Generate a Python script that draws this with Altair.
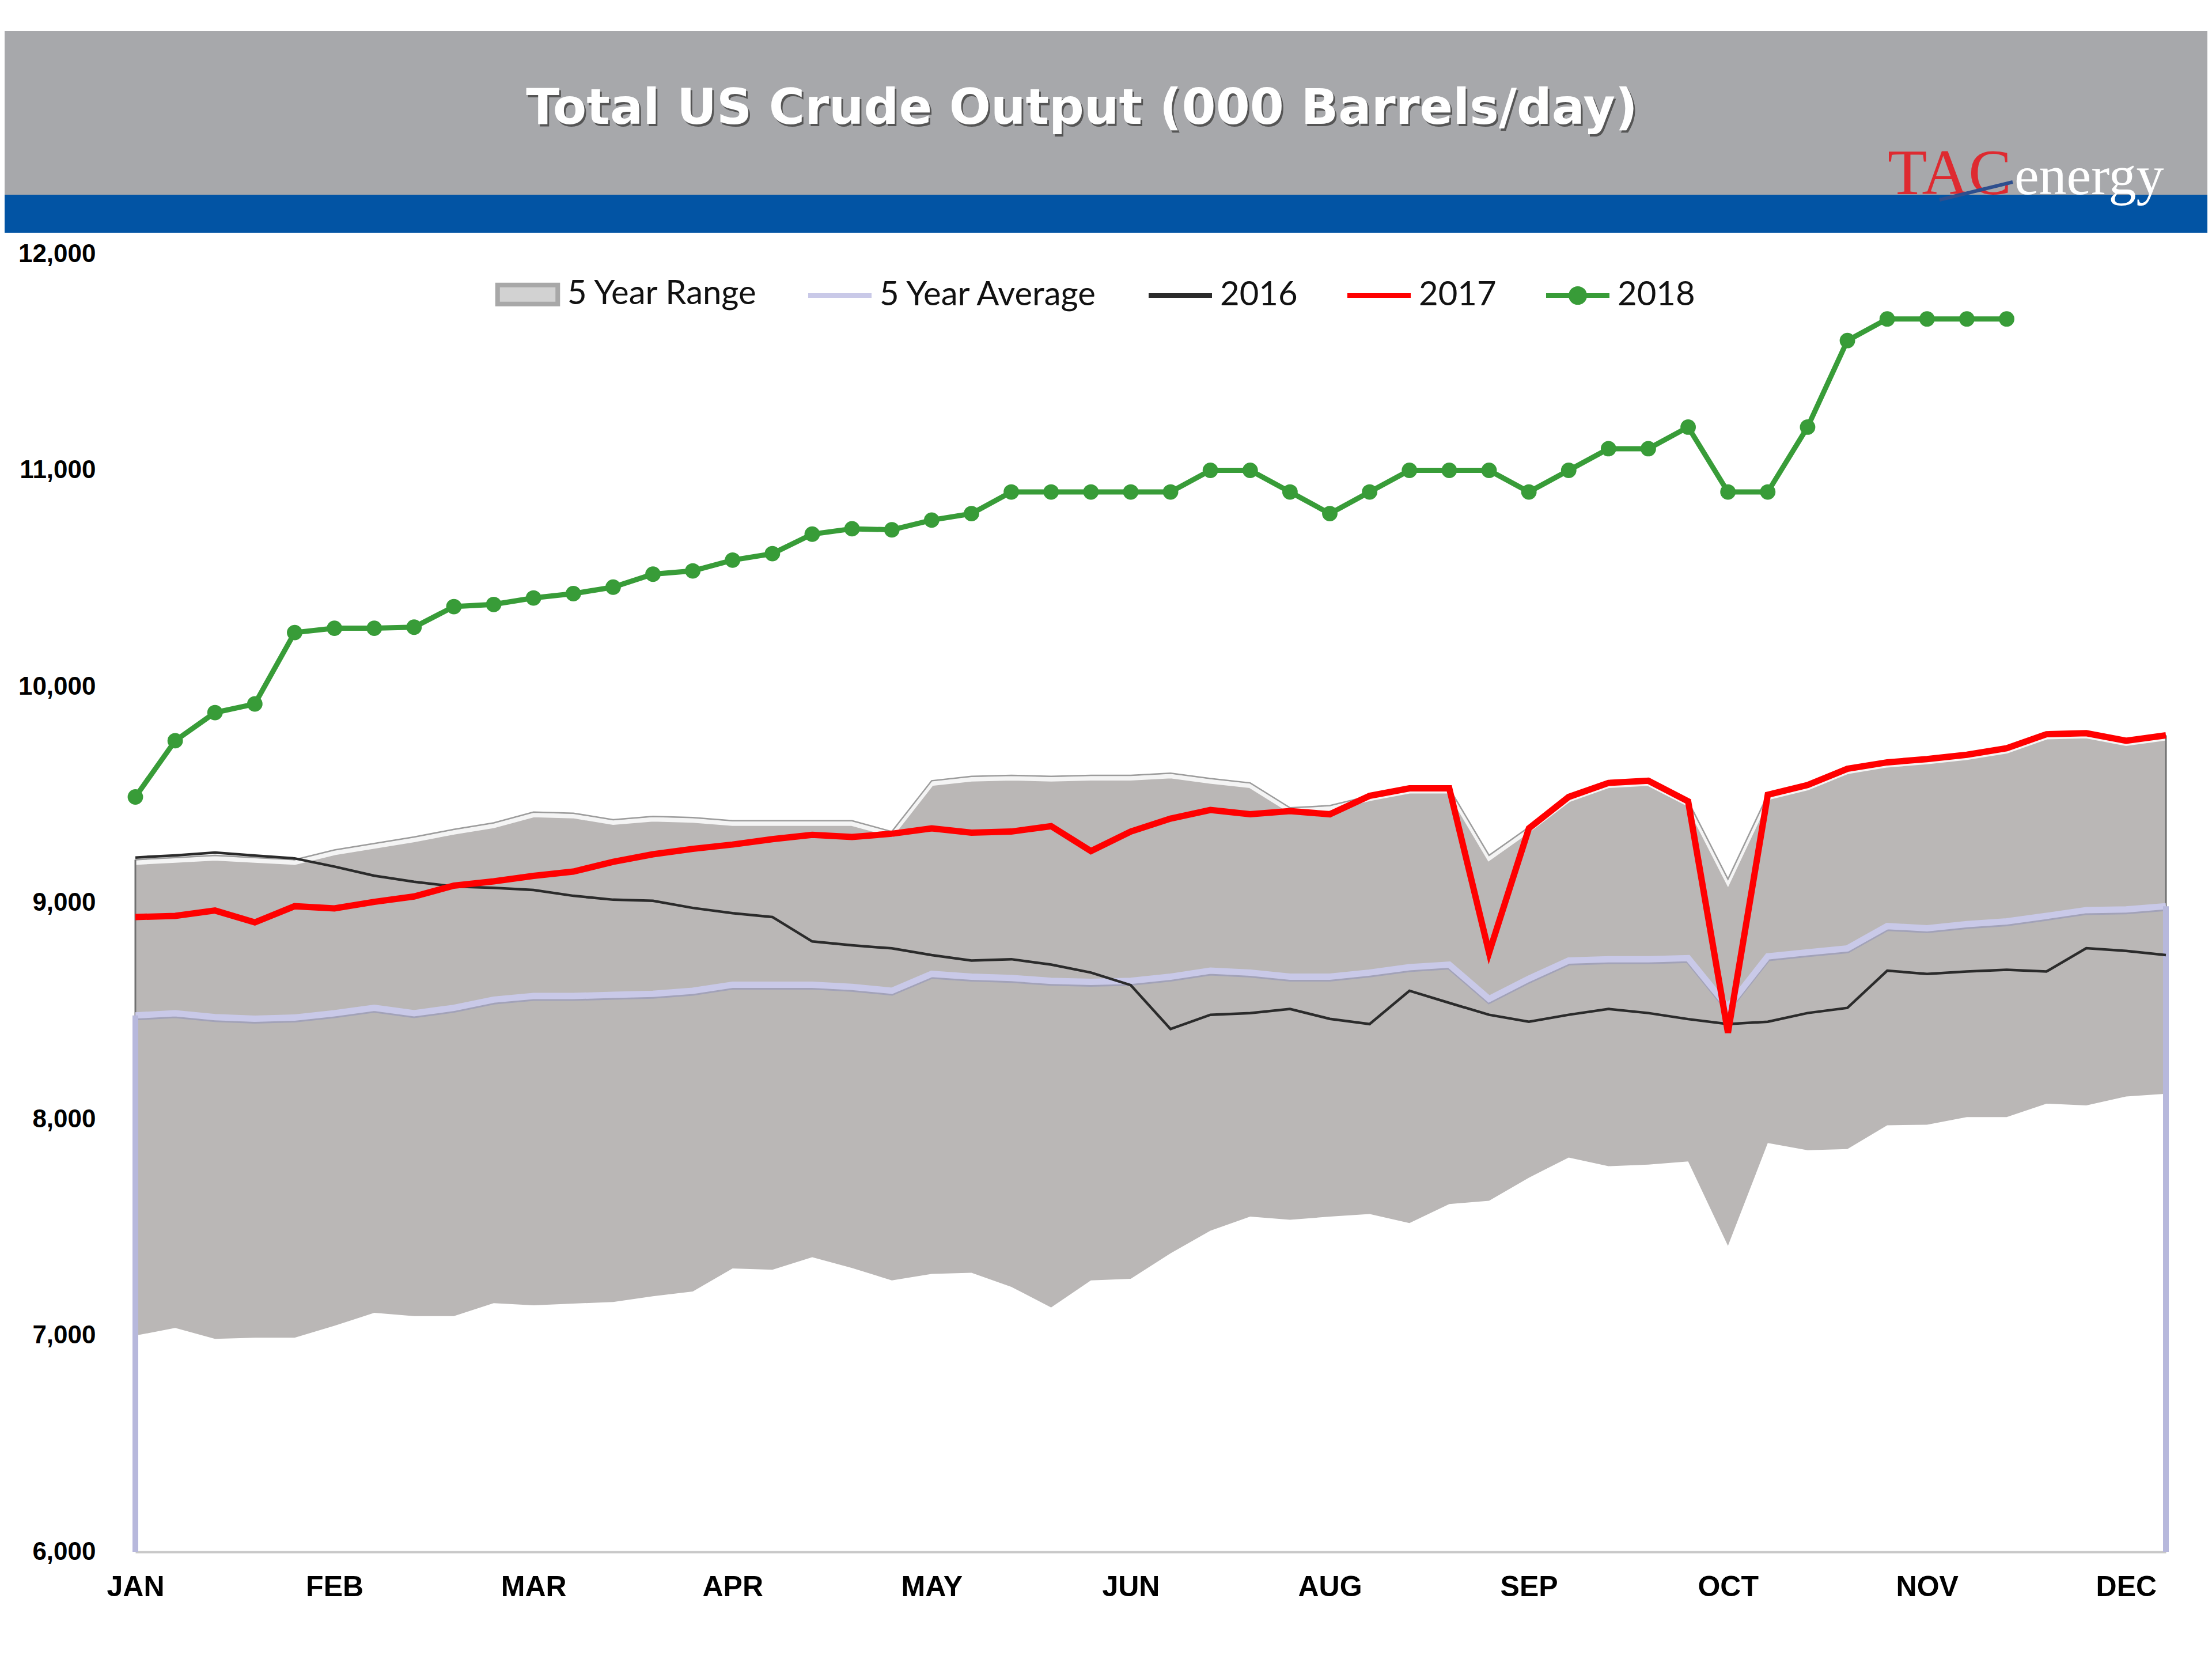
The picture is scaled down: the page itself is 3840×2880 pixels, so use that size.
import json
import altair as alt
import pandas as pd

# ---------------- data ----------------
TITLE = "Total US Crude Output (000 Barrels/day)"
month_labels = ["JAN", "FEB", "MAR", "APR", "MAY", "JUN", "AUG", "SEP", "OCT", "NOV", "DEC"]
series_names = ["5 Year Range", "5 Year Average", "2016", "2017", "2018"]

weeks = list(range(52))

range_top = [9200, 9210, 9220, 9210, 9200, 9245, 9275, 9305, 9340, 9370, 9420, 9415, 9385, 9400, 9395,
             9380, 9380, 9380, 9380, 9330, 9565, 9585, 9590, 9585, 9590, 9590, 9600, 9575, 9555, 9440,
             9450, 9495, 9530, 9530, 9220, 9350, 9490, 9555, 9565, 9470, 9110, 9500, 9545, 9620, 9650,
             9665, 9685, 9715, 9780, 9785, 9750, 9775]
range_bottom = [7000, 7035, 6985, 6990, 6990, 7045, 7105, 7090, 7090, 7150, 7140, 7148, 7155, 7182, 7204,
                7310, 7304, 7362, 7312, 7255, 7285, 7290, 7225, 7130, 7255, 7262, 7380, 7485, 7550, 7535,
                7550, 7562, 7520, 7608, 7623, 7730, 7823, 7783, 7790, 7805, 7415, 7890, 7857, 7862, 7972,
                7975, 8010, 8010, 8072, 8064, 8105, 8118]
avg_5yr = [8480, 8490, 8472, 8465, 8470, 8490, 8515, 8490, 8515, 8553, 8570, 8570, 8575, 8580, 8594,
           8622, 8622, 8622, 8612, 8594, 8672, 8659, 8653, 8640, 8635, 8640, 8659, 8687, 8678, 8659,
           8659, 8678, 8703, 8715, 8556, 8650, 8734, 8740, 8740, 8745, 8519, 8753, 8772, 8790, 8893,
           8883, 8902, 8915, 8940, 8967, 8970, 8985]
y2016 = [9210, 9220, 9233, 9219, 9206, 9168, 9126, 9098, 9076, 9070, 9060, 9033, 9015, 9010, 8977,
         8953, 8935, 8822, 8804, 8790, 8759, 8734, 8740, 8715, 8678, 8620, 8417, 8483, 8491, 8510,
         8464, 8440, 8594, 8538, 8483, 8451, 8483, 8510, 8491, 8463, 8440, 8451, 8491, 8515, 8687,
         8672, 8683, 8691, 8683, 8791, 8778, 8759]
y2017 = [8935, 8940, 8965, 8910, 8985, 8975, 9005, 9030, 9080, 9100, 9125, 9145, 9190, 9225, 9250,
         9270, 9295, 9315, 9305, 9320, 9345, 9325, 9330, 9355, 9240, 9330, 9390, 9430, 9410, 9425,
         9410, 9495, 9530, 9530, 8770, 9345, 9490, 9555, 9565, 9470, 8400, 9500, 9545, 9620, 9650,
         9665, 9685, 9715, 9780, 9785, 9750, 9775]
y2018 = [9490, 9750, 9880, 9920, 10250, 10270, 10270, 10275, 10370, 10380, 10410, 10430, 10460, 10520,
         10535, 10585, 10615, 10705, 10730, 10725, 10770, 10800, 10900, 10900, 10900, 10900, 10900,
         11000, 11000, 10900, 10800, 10900, 11000, 11000, 11000, 10900, 11000, 11100, 11100, 11200,
         10900, 10900, 11200, 11600, 11700, 11700, 11700, 11700]

df = pd.DataFrame({"week": weeks, "top": range_top, "bottom": range_bottom,
                   "avg": avg_5yr, "y2016": y2016, "y2017": y2017})
df18 = pd.DataFrame({"week": weeks[:len(y2018)], "y2018": y2018})
legend_df = pd.DataFrame({"series": series_names})
one = pd.DataFrame({"k": [0]})

# ---------------- styling ----------------
C_RANGE = "#BAB7B6"
C_AVG = "#C9C9E8"
C_2016 = "#2B2B2B"
C_2017 = "#FF0000"
C_2018 = "#389C38"

x_axis = alt.Axis(values=list(range(0, 51, 5)),
                  labelExpr=f"{json.dumps(month_labels)}[round(datum.value / 5)]",
                  labelFont="Liberation Sans", labelFontWeight="bold", labelFontSize=50,
                  labelColor="#000000", labelPadding=36, labelFlush=False, labelOverlap=False,
                  tickSize=0, grid=False,
                  domain=True, domainColor="#C8C8C8", domainWidth=4, title=None)
y_axis = alt.Axis(values=list(range(6000, 12001, 1000)), format=",d",
                  labelFont="Liberation Sans", labelFontWeight="bold", labelFontSize=44,
                  labelColor="#000000", labelPadding=69, labelFlush=False, tickSize=0, grid=False,
                  domain=False, title=None)

X = alt.X("week:Q", scale=alt.Scale(domain=[0, 51], nice=False, zero=False), axis=x_axis)
ysc = alt.Scale(domain=[6000, 12000], nice=False, zero=False)


def Y(field):
    return alt.Y(f"{field}:Q", scale=ysc, axis=y_axis)


base = alt.Chart(df)

area = base.mark_area(color=C_RANGE).encode(x=X, y=Y("bottom"), y2="top")
top_hi = base.mark_line(color="#F4F4F4", strokeWidth=8, yOffset=5).encode(x=X, y=Y("top"))
top_edge = base.mark_line(color="#9C9C9C", strokeWidth=2.5).encode(x=X, y=Y("top"))
edges = base.mark_rule(color="#707070", strokeWidth=3).encode(
    x=X, y=Y("bottom"), y2="top").transform_filter("datum.week == 0 || datum.week == 51")

avg_shadow = base.mark_line(color="#A2A2B8", strokeWidth=11, yOffset=3).encode(x=X, y=Y("avg"))
avg_line = base.mark_line(color=C_AVG, strokeWidth=11).encode(x=X, y=Y("avg"))
avg_ends = base.mark_rule(color="#B7B8DC", strokeWidth=10).encode(
    x=X, y=Y("avg"), y2=alt.Y2Datum(6000)).transform_filter("datum.week == 0 || datum.week == 51")

l2016 = base.mark_line(color=C_2016, strokeWidth=4.5).encode(x=X, y=Y("y2016"))
l2017 = base.mark_line(color=C_2017, strokeWidth=11).encode(x=X, y=Y("y2017"))
l2018 = alt.Chart(df18).mark_line(color=C_2018, strokeWidth=9).encode(x=X, y=Y("y2018"))
p2018 = alt.Chart(df18).mark_circle(color=C_2018, size=720, opacity=1).encode(x=X, y=Y("y2018"))

# ---------------- legend ----------------
leg = alt.Legend(orient="none", legendX=622, legendY=11, direction="horizontal", title=None,
                 symbolSize=12100, symbolStrokeWidth=8, labelFont="Lato", labelFontSize=58,
                 labelColor="#111111", labelOffset=10, columnPadding=70, padding=0, labelLimit=1000)
shape_paths = ["M-0.95,-0.3L0.95,-0.3L0.95,0.3L-0.95,0.3Z",
               "M-1,0L1,0", "M-1,0L1,0", "M-1,0L1,0",
               "M-1,0L1,0M-0.22,0A0.22,0.22,0,1,1,0.22,0A0.22,0.22,0,1,1,-0.22,0Z"]
legend_layer = alt.Chart(legend_df).mark_point(filled=True, opacity=1).encode(
    x=alt.value(0), y=alt.value(-3000),
    shape=alt.Shape("series:N", scale=alt.Scale(domain=series_names, range=shape_paths), legend=leg),
    fill=alt.Fill("series:N", scale=alt.Scale(domain=series_names,
                  range=["#D2D2D2", C_AVG, C_2016, C_2017, C_2018]), legend=leg),
    stroke=alt.Stroke("series:N", scale=alt.Scale(domain=series_names,
                      range=["#A8A8A8", C_AVG, C_2016, C_2017, C_2018]), legend=leg),
)

# ---------------- header decoration ----------------
one_c = alt.Chart(one)
gray_band = one_c.mark_rect(color="#A7A8AB").encode(
    x=alt.value(-227), x2=alt.value(3597), y=alt.value(-387), y2=alt.value(-103))
blue_band = one_c.mark_rect(color="#0254A4").encode(
    x=alt.value(-227), x2=alt.value(3597), y=alt.value(-103), y2=alt.value(-37))
title_shadow = one_c.mark_text(text=TITLE, font="DejaVu Sans", fontWeight="bold", fontSize=85,
                               color="#555555", align="center",
                               baseline="alphabetic").encode(x=alt.value(1646), y=alt.value(-222))
title_text = one_c.mark_text(text=TITLE, font="DejaVu Sans", fontWeight="bold", fontSize=85,
                             color="#FFFFFF", align="center",
                             baseline="alphabetic").encode(x=alt.value(1643), y=alt.value(-226))
logo_tac = one_c.mark_text(text="TAC", font="Liberation Serif", fontSize=112,
                           color="#DE2A30", align="left", baseline="alphabetic").encode(
    x=alt.value(3042), y=alt.value(-104))
logo_energy = one_c.mark_text(text="energy", font="Liberation Serif", fontSize=96,
                              color="#FFFFFF", align="left", baseline="alphabetic").encode(
    x=alt.value(3262), y=alt.value(-104))
logo_swoosh = one_c.mark_rule(color="#2E4F8E", strokeWidth=6).encode(
    x=alt.value(3132), x2=alt.value(3259), y=alt.value(-94), y2=alt.value(-125))

chart = alt.layer(
    gray_band, blue_band, title_shadow, title_text, logo_tac, logo_swoosh, logo_energy,
    area, top_hi, top_edge, edges, avg_shadow, avg_line, avg_ends,
    l2016, l2017, l2018, p2018, legend_layer,
).properties(
    width=3525, height=2253,
    padding={"left": 227, "top": 433, "right": 72, "bottom": 178},
    autosize="none", background="white",
).configure_view(strokeWidth=0)

chart.save("out.html", embed_options={"renderer": "svg", "actions": False})
